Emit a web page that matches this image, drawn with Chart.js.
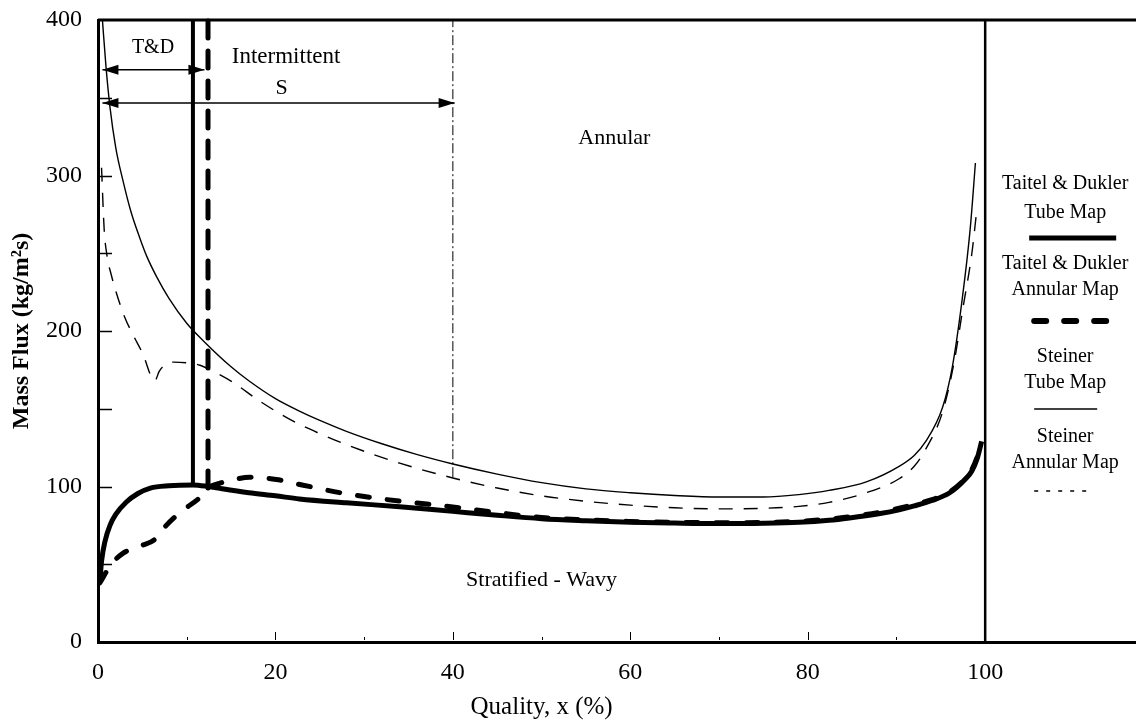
<!DOCTYPE html>
<html>
<head>
<meta charset="utf-8">
<script src="https://cdn.jsdelivr.net/npm/chart.js@4.4.1/dist/chart.umd.min.js"></script>
<style>
  html, body { margin: 0; padding: 0; background: #fff; }
  #wrap { width: 1136px; height: 724px; }
</style>
</head>
<body>
<div id="wrap"><canvas id="flowMap" width="1136" height="724"></canvas></div>
<script>
// values: quality x (%) vs mass flux (kg/m2s)
const xTicks = [0, 20, 40, 60, 80, 100];
const yTicks = [0, 100, 200, 300, 400];
const xMarks = [10, 20, 30, 40, 50, 60, 70, 80, 90];
const yMarks = [50, 100, 150, 200, 250, 300, 350];

// Taitel & Dukler tube map (thick solid)
const tdTubeX = [0.2, 0.4, 0.8, 1.35, 2, 3.2, 4.5, 5.9, 8, 10.7, 12.4, 14, 17, 20, 22.7, 28, 34, 40, 45, 50, 55, 60, 65, 70, 75, 79, 82.4, 84.7, 88, 90.3, 92, 94, 96, 97.8, 98.5, 99.1, 99.6];
const tdTubeY = [38, 52, 65, 75, 82, 90, 95.5, 99, 100.5, 101, 100, 98.5, 96, 94, 92, 89.5, 87, 84, 81.5, 79.3, 78, 77, 76.5, 76.2, 76.4, 77, 78.3, 79.8, 82.5, 85, 87.5, 91, 96, 105, 110, 118, 129];

// Taitel & Dukler annular map (thick dashed)
const tdAnnX = [0.2, 1.5, 2.8, 4.9, 6.4, 7.7, 9.4, 11.5, 12.4, 13.7, 15, 17.1, 20.1, 23, 27.3, 32, 38.2, 44, 50, 55, 60, 65, 70, 75, 79, 82.4, 85, 88, 90.3, 92, 94, 96, 97.8, 98.5, 99.1, 99.5];
const tdAnnY = [38, 50, 57, 62, 66, 75, 84, 93, 99, 102, 104, 106, 104.5, 101, 96, 92, 88, 84, 80, 78.5, 77.5, 77, 76.7, 76.9, 77.6, 79, 80.8, 83.3, 86, 88.5, 91.5, 96.5, 105.5, 111, 119, 127];

// Steiner tube map (thin solid)
const stTubeX = [0.5, 0.9, 1.35, 2, 2.8, 3.7, 4.7, 5.5, 6.6, 8, 10, 12, 15, 17, 20, 22.7, 25, 28, 32, 36, 40, 45, 50, 55, 60, 65, 70, 75, 79, 82.4, 86.6, 90.3, 92, 93.3, 95.2, 96.3, 97.4, 98.3, 98.9];
const stTubeY = [400, 370, 344, 318, 297, 277, 260, 248, 235, 221, 205, 193, 177, 168, 156.5, 148.5, 142.5, 135.5, 127.5, 120.5, 114.5, 108, 102.5, 98.5, 96, 94.2, 93.2, 93.2, 94.8, 97.5, 103, 113, 120, 129, 151, 177, 220, 265, 308];

// Steiner annular map (thin dashed)
const stAnnX = [0.4, 0.7, 1, 1.5, 2.1, 3, 4, 5, 6.4, 6.9, 7.3, 8.5, 10, 11.5, 13, 15.2, 18.2, 22, 25, 28.4, 34, 40, 45, 50, 55, 60, 65, 70, 75, 79, 82.4, 86.6, 90.3, 92, 93.3, 95.2, 96.5, 97.5, 98.5, 99];
const stAnnY = [305, 265, 249, 236, 224, 209, 197, 186, 168, 174, 177, 180, 179.5, 178, 174, 167, 155, 142, 134, 126, 115, 105.5, 99, 94, 90.5, 88, 86.3, 85.6, 86, 87.2, 89.8, 96, 105, 113, 124, 148, 180, 215, 250, 275];

// regime boundaries
const tdTubeEdgeX = [10.7, 10.7];
const tdTubeEdgeY = [101, 400];
const tdAnnEdgeX = [12.4, 12.4];
const tdAnnEdgeY = [99, 402];
const stEdgeX = [40, 40];
const stEdgeY = [106, 400];
const endEdgeX = [100, 100];
const endEdgeY = [0, 400];

// range arrows (T&D intermittent, Steiner intermittent)
const tdArrowX = [0.5, 12.0];
const tdArrowY = [368, 368];
const sArrowX = [0.5, 40.2];
const sArrowY = [346.6, 346.6];

const serif = "'Liberation Serif', 'DejaVu Serif', serif";

function pts(xs, ys) {
    return xs.map((x, i) => ({ x: x, y: ys[i] }));
}

function line(data, width, dash, extra) {
    return Object.assign({
        data: data,
        borderColor: '#000',
        borderWidth: width,
        borderDash: dash || [],
        pointRadius: 0,
        fill: false
    }, extra || {});
}

const datasets = [
    line(pts(stTubeX, stTubeY), 1.4, [], { cubicInterpolationMode: 'monotone' }),
    line(pts(stAnnX, stAnnY), 1.4, [14, 11], { cubicInterpolationMode: 'monotone' }),
    line(pts(tdAnnX, tdAnnY), 5, [12, 18], { cubicInterpolationMode: 'monotone', borderCapStyle: 'round' }),
    line(pts(tdTubeX, tdTubeY), 5, [], { cubicInterpolationMode: 'monotone' }),
    line(pts(tdTubeEdgeX, tdTubeEdgeY), 4),
    line(pts(tdAnnEdgeX, tdAnnEdgeY), 5, [17, 13], { borderCapStyle: 'round', clip: 8 }),
    line(pts(stEdgeX, stEdgeY), 1, [10, 3, 2, 3]),
    line(pts(endEdgeX, endEdgeY), 2.5),
    line(pts(tdArrowX, tdArrowY), 1.5, [], { arrow: true }),
    line(pts(sArrowX, sArrowY), 1.5, [], { arrow: true })
];

function arrowHead(ctx, x, y, dir) {
    ctx.beginPath();
    ctx.moveTo(x, y);
    ctx.lineTo(x - dir * 16, y - 5);
    ctx.lineTo(x - dir * 16, y + 5);
    ctx.closePath();
    ctx.fill();
}

const mapPlugin = {
    id: 'mapPlugin',
    beforeDraw(chart) {
        const c = chart.ctx;
        c.save();
        c.fillStyle = '#fff';
        c.fillRect(0, 0, chart.width, chart.height);
        c.restore();
    },
    afterDatasetsDraw(chart) {
        const c = chart.ctx;
        const xs = chart.scales.x, ys = chart.scales.y;
        const a = chart.chartArea;
        c.save();
        c.strokeStyle = '#000';
        c.fillStyle = '#000';

        // top border
        c.lineWidth = 3;
        c.beginPath();
        c.moveTo(a.left, a.top);
        c.lineTo(a.right, a.top);
        c.stroke();

        // inside tick marks
        c.lineWidth = 1.5;
        yMarks.forEach(v => {
            const py = Math.round(ys.getPixelForValue(v)) + 0.5;
            c.beginPath();
            c.moveTo(a.left, py);
            c.lineTo(a.left + 14, py);
            c.stroke();
        });
        c.lineWidth = 1;
        xMarks.forEach(v => {
            const px = Math.round(xs.getPixelForValue(v)) + 0.5;
            const len = v % 20 === 0 ? 8 : 3;
            c.beginPath();
            c.moveTo(px, a.bottom - 2);
            c.lineTo(px, a.bottom - 2 - len);
            c.stroke();
        });

        // arrow heads at both ends of the range arrows
        chart.data.datasets.forEach((ds, i) => {
            if (!ds.arrow) return;
            const p = chart.getDatasetMeta(i).data;
            const p0 = p[0], p1 = p[p.length - 1];
            arrowHead(c, p0.x, p0.y, -1);
            arrowHead(c, p1.x, p1.y, 1);
        });

        // regime labels
        const notes = [
            { text: 'T&D', x: 6.2, y: 382, size: 20 },
            { text: 'Intermittent', x: 21.2, y: 376, size: 23 },
            { text: 'S', x: 20.7, y: 356, size: 22 },
            { text: 'Annular', x: 58.2, y: 324, size: 22 },
            { text: 'Stratified - Wavy', x: 50, y: 40, size: 22 }
        ];
        c.textAlign = 'center';
        c.textBaseline = 'middle';
        notes.forEach(n => {
            c.font = n.size + 'px ' + serif;
            c.fillText(n.text, xs.getPixelForValue(n.x), ys.getPixelForValue(n.y));
        });

        // x axis title, centred on 0..100
        c.font = '25px ' + serif;
        c.fillText('Quality, x (%)', xs.getPixelForValue(50), a.bottom + 65);

        // legend in the right-hand margin
        const x100 = xs.getPixelForValue(100);
        const cx = x100 + 80;
        c.font = '20px ' + serif;
        const legendText = [
            ['Taitel & Dukler', 164], ['Tube Map', 193],
            ['Taitel & Dukler', 244], ['Annular Map', 270],
            ['Steiner', 337], ['Tube Map', 363],
            ['Steiner', 417], ['Annular Map', 443]
        ];
        legendText.forEach(t => c.fillText(t[0], cx, a.top + t[1]));

        const sample = (y, x0, x1, width, dash, cap) => {
            c.lineWidth = width;
            c.setLineDash(dash);
            c.lineCap = cap || 'butt';
            c.beginPath();
            c.moveTo(x100 + x0, a.top + y);
            c.lineTo(x100 + x1, a.top + y);
            c.stroke();
        };
        sample(218, 44, 131, 5, []);
        sample(301, 49, 121, 6, [12, 18], 'round');
        sample(389, 49, 112, 1.3, []);
        sample(471, 49, 107, 1.5, [4, 8]);
        c.restore();
    }
};

document.addEventListener('DOMContentLoaded', () => {
    const ctx = document.getElementById('flowMap').getContext('2d');
    new Chart(ctx, {
        type: 'line',
        data: { datasets: datasets },
        options: {
            responsive: false,
            animation: false,
            devicePixelRatio: 1,
            layout: { padding: { top: 20, left: 0, right: 0, bottom: 0 } },
            plugins: {
                legend: { display: false },
                tooltip: { enabled: false }
            },
            scales: {
                x: {
                    type: 'linear',
                    min: 0,
                    max: 117,
                    grid: { display: false },
                    border: { display: true, width: 3, color: '#000' },
                    afterBuildTicks: s => { s.ticks = xTicks.map(v => ({ value: v })); },
                    afterFit: s => { s.height = 82; s.paddingLeft = 0; s.paddingRight = 0; },
                    ticks: {
                        color: '#000',
                        font: { family: serif, size: 24 },
                        padding: 8,
                        maxRotation: 0,
                        autoSkip: false
                    }
                },
                y: {
                    type: 'linear',
                    min: 0,
                    max: 400,
                    grid: { display: false },
                    border: { display: true, width: 3, color: '#000' },
                    afterBuildTicks: s => { s.ticks = yTicks.map(v => ({ value: v })); },
                    afterFit: s => { s.width = 98; s.paddingTop = 0; s.paddingBottom = 0; },
                    ticks: {
                        color: '#000',
                        font: { family: serif, size: 24 },
                        padding: 8
                    },
                    title: {
                        display: true,
                        text: 'Mass Flux (kg/m²s)',
                        color: '#000',
                        font: { family: serif, size: 24, weight: 'bold' },
                        padding: { top: 7, bottom: 0 }
                    }
                }
            }
        },
        plugins: [mapPlugin]
    });
});
</script>
</body>
</html>
